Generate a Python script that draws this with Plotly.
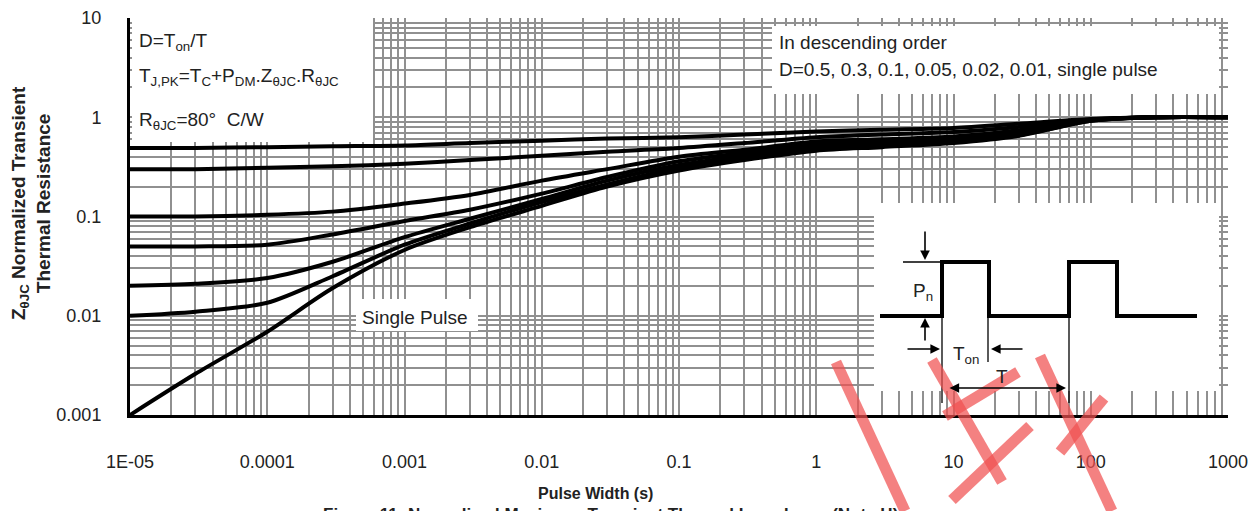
import plotly.graph_objects as go

# ---------------- data ----------------
pulse_width = [1e-5, 3e-5, 1e-4, 3e-4, 1e-3, 3e-3, 1e-2, 3e-2, 0.1, 0.3, 1, 3, 10, 30, 100, 300, 1000]

z_d050 = [0.49, 0.49, 0.50, 0.51, 0.52, 0.55, 0.58, 0.61, 0.63, 0.67, 0.72, 0.75, 0.78, 0.86, 0.96, 1.0, 1.0]
z_d030 = [0.30, 0.30, 0.31, 0.32, 0.34, 0.37, 0.41, 0.45, 0.49, 0.55, 0.63, 0.67, 0.71, 0.80, 0.95, 1.0, 1.0]
z_d010 = [0.10, 0.10, 0.104, 0.112, 0.135, 0.165, 0.23, 0.30, 0.40, 0.47, 0.57, 0.60, 0.64, 0.74, 0.94, 1.0, 1.0]
z_d005 = [0.05, 0.05, 0.052, 0.066, 0.09, 0.117, 0.17, 0.25, 0.36, 0.44, 0.53, 0.57, 0.61, 0.70, 0.93, 1.0, 1.0]
z_d002 = [0.02, 0.021, 0.024, 0.035, 0.062, 0.095, 0.15, 0.23, 0.33, 0.41, 0.50, 0.54, 0.58, 0.68, 0.93, 1.0, 1.0]
z_d001 = [0.01, 0.011, 0.0135, 0.025, 0.052, 0.085, 0.14, 0.21, 0.31, 0.39, 0.48, 0.52, 0.56, 0.66, 0.92, 1.0, 1.0]
z_single = [0.001, 0.0026, 0.0069, 0.019, 0.046, 0.078, 0.128, 0.20, 0.29, 0.37, 0.46, 0.50, 0.55, 0.65, 0.92, 1.0, 1.0]

series_names = ["D=0.5", "D=0.3", "D=0.1", "D=0.05", "D=0.02", "D=0.01", "Single pulse"]
series_values = [z_d050, z_d030, z_d010, z_d005, z_d002, z_d001, z_single]

x_tick_vals = [1e-5, 1e-4, 1e-3, 1e-2, 1e-1, 1, 10, 100, 1000]
x_tick_text = ["1E-05", "0.0001", "0.001", "0.01", "0.1", "1", "10", "100", "1000"]
y_tick_vals = [0.001, 0.01, 0.1, 1, 10]
y_tick_text = ["0.001", "0.01", "0.1", "1", "10"]

# ---------------- styling ----------------
PAGE_OFF = 8                              # default body margin of the html page
W, H = 1256 - PAGE_OFF, 511 - PAGE_OFF
L, R, T, B = 130, 1228, 18, 415          # plot area in page pixels
FONT = "Liberation Sans, Arial, sans-serif"
GRID = "#909090"
TXT = "#222222"


def px(x):
    return (x - L) / (R - L)


def py(y):
    return (B - y) / (B - T)


minor_x = [k * 10.0 ** e for e in range(-5, 3) for k in range(2, 10)]
minor_y = [k * 10.0 ** e for e in range(-3, 1) for k in range(2, 10)]

fig = go.Figure()
for name, vals in zip(series_names, series_values):
    fig.add_trace(go.Scatter(
        x=pulse_width, y=vals, name=name, mode="lines",
        line=dict(color="black", width=4, shape="spline", smoothing=0.8),
        hoverinfo="skip", showlegend=False))

fig.update_layout(
    width=W, height=H,
    margin=dict(l=L - PAGE_OFF, r=1256 - R, t=T - PAGE_OFF, b=511 - B, pad=0, autoexpand=False),
    paper_bgcolor="white", plot_bgcolor="white",
    showlegend=False,
)

common = dict(ticks="", showgrid=True, gridcolor=GRID, gridwidth=1.8,
              showline=True, linecolor="black", linewidth=3,
              zeroline=False, automargin=False,
              tickfont=dict(family=FONT, size=18, color=TXT))
fig.update_xaxes(
    type="log", range=[-5, 3],
    tickmode="array", tickvals=x_tick_vals, ticktext=x_tick_text,
    ticklabelstandoff=28,
    minor=dict(tickmode="array", tickvals=minor_x, showgrid=True,
               gridcolor=GRID, gridwidth=1.8, ticks=""),
    **common,
)
fig.update_yaxes(
    type="log", range=[-3, 1],
    tickmode="array", tickvals=y_tick_vals, ticktext=y_tick_text,
    ticklabelstandoff=22,
    minor=dict(tickmode="array", tickvals=minor_y, showgrid=True,
               gridcolor=GRID, gridwidth=1.8, ticks=""),
    **common,
)

shapes = []
# white label boxes covering the grid
for (x0, y0, x1, y1) in [(132, 18, 373, 142), (772, 26, 1219, 94),
                         (356, 299, 478, 331), (874, 203, 1219, 391)]:
    shapes.append(dict(type="rect", xref="paper", yref="paper",
                       x0=px(x0), x1=px(x1), y0=py(y1), y1=py(y0),
                       fillcolor="white", line=dict(width=0), layer="above"))

# inset pulse schematic
wave = [(880, 316), (942, 316), (942, 262), (989, 262), (989, 316), (1069, 316),
        (1069, 262), (1117, 262), (1117, 316), (1197, 316)]
path = "M " + " L ".join(f"{px(a):.5f},{py(b):.5f}" for a, b in wave)
shapes.append(dict(type="path", xref="paper", yref="paper", path=path,
                   line=dict(color="black", width=4), layer="above"))
for (x0, y0, x1, y1) in [(903, 262, 942, 262), (942, 316, 942, 403),
                         (988, 316, 988, 362), (1069, 316, 1069, 403)]:
    shapes.append(dict(type="line", xref="paper", yref="paper",
                       x0=px(x0), y0=py(y0), x1=px(x1), y1=py(y1),
                       line=dict(color="black", width=1.3), layer="above"))

# red watermark strokes
for (x0, y0, x1, y1) in [(836, 362, 905, 511), (932, 360, 1002, 482), (1018, 372, 945, 416),
                         (1040, 356, 1112, 511), (1030, 426, 952, 500), (1104, 398, 1060, 452)]:
    shapes.append(dict(type="line", xref="paper", yref="paper",
                       x0=px(x0), y0=py(y0), x1=px(x1), y1=py(y1),
                       line=dict(color="rgba(240,80,80,0.72)", width=11), layer="above"))
fig.update_layout(shapes=shapes)

ann = []


def text(x, y, s, size=19, xanchor="left", yanchor="middle", angle=0, color=TXT):
    ann.append(dict(x=px(x), y=py(y), xref="paper", yref="paper", text=s, showarrow=False,
                    xanchor=xanchor, yanchor=yanchor, textangle=angle,
                    font=dict(family=FONT, size=size, color=color)))


text(137, 42, "D=T<sub>on</sub>/T")
text(137, 77, "T<sub>J,PK</sub>=T<sub>C</sub>+P<sub>DM</sub>.Z<sub>θJC</sub>.R<sub>θJC</sub>")
text(137, 121, "R<sub>θJC</sub>=80°  C/W")
text(777, 43, "In descending order")
text(777, 69, "D=0.5, 0.3, 0.1, 0.05, 0.02, 0.01, single pulse")
text(360, 317, "Single Pulse")
text(911, 292, "P<sub>n</sub>")
text(951, 355, "T<sub>on</sub>")
text(994, 376, "T")

# axis titles and caption
text(595, 493, "<b>Pulse Width (s)</b>", size=16, xanchor="center")
ann.append(dict(x=px(31), y=py(203), xref="paper", yref="paper",
                text="<b>Z<sub>θJC</sub> Normalized Transient<br>Thermal Resistance</b>",
                showarrow=False, textangle=-90, xanchor="center", yanchor="middle",
                font=dict(family=FONT, size=19, color=TXT)))
ann.append(dict(x=px(610), y=py(503), xref="paper", yref="paper",
                text="<b>Figure 11: Normalized Maximum Transient Thermal Impedance (Note H)</b>",
                showarrow=False, xanchor="center", yanchor="top",
                font=dict(family=FONT, size=17, color=TXT)))

# inset arrows
for (hx, hy, ax, ay, side) in [(925, 260, 0, -30, "end"), (925, 318, 0, 24, "end"),
                               (940, 349, -34, 0, "end"), (991, 349, 33, 0, "end"),
                               (1066, 388, -118, 0, "end+start")]:
    ann.append(dict(x=px(hx), y=py(hy), xref="paper", yref="paper", text="",
                    showarrow=True, ax=ax, ay=ay, arrowhead=2, startarrowhead=2,
                    arrowside=side, arrowsize=1.2, arrowwidth=1.6, arrowcolor="black"))

fig.update_layout(annotations=ann)

fig.write_html("out.html")
